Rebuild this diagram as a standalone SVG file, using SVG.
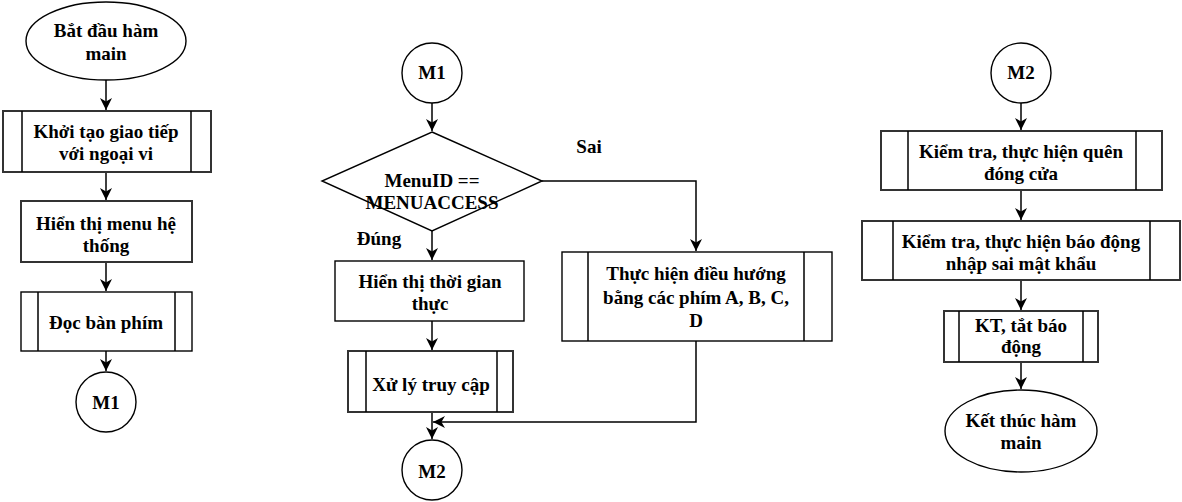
<svg xmlns="http://www.w3.org/2000/svg" width="1182" height="502" viewBox="0 0 1182 502">
<style>
.s{fill:#fff;stroke:#000;stroke-width:1.4}
.t{stroke:#333;stroke-width:2}
.e{fill:none;stroke:#000;stroke-width:1.5}
text{font-family:"Liberation Serif","Times New Roman",serif;font-weight:bold;font-size:19px;text-anchor:middle;fill:#000}
</style>
<defs>
<marker id="a" markerUnits="userSpaceOnUse" markerWidth="12" markerHeight="12" refX="10" refY="5" orient="auto" viewBox="0 0 10 10">
<path d="M0,0 L10,5 L0,10 L3,5 z" fill="#000"/>
</marker>
</defs>
<rect width="1182" height="502" fill="#fff"/>
<g id="connectors">
<path class="e" d="M106,80 V110" marker-end="url(#a)"/>
<path class="e" d="M106,172 V200" marker-end="url(#a)"/>
<path class="e" d="M106,262 V291" marker-end="url(#a)"/>
<path class="e" d="M106,351 V371" marker-end="url(#a)"/>
<path class="e" d="M432,103 V131" marker-end="url(#a)"/>
<path class="e" d="M432,231 V260" marker-end="url(#a)"/>
<path class="e" d="M542,181 H696 V251" marker-end="url(#a)"/>
<path class="e" d="M432,321 V350" marker-end="url(#a)"/>
<path class="e" d="M432,412 V439" marker-end="url(#a)"/>
<path class="e" d="M696,341 V422 H433" marker-end="url(#a)"/>
<path class="e" d="M1021,103 V130" marker-end="url(#a)"/>
<path class="e" d="M1021,190 V220" marker-end="url(#a)"/>
<path class="e" d="M1021,280 V310" marker-end="url(#a)"/>
<path class="e" d="M1021,362 V389" marker-end="url(#a)"/>
<text x="379" y="245">Đúng</text>
<text x="589" y="153">Sai</text>
</g>
<g id="start">
<ellipse class="s" cx="106" cy="41" rx="80" ry="39"/>
<text x="106" y="37">Bắt đầu hàm</text>
<text x="106" y="60">main</text>
</g>
<g id="init">
<rect class="s t" x="3" y="111" width="208" height="61"/>
<path class="e t" d="M22,111 V172 M191,111 V172"/>
<text x="106" y="138">Khởi tạo giao tiếp</text>
<text x="106" y="160">với ngoại vi</text>
</g>
<g id="menu">
<rect class="s t" x="21" y="201" width="171" height="61"/>
<text x="106" y="230">Hiển thị menu hệ</text>
<text x="106" y="252">thống</text>
</g>
<g id="readkey">
<rect class="s" x="21" y="292" width="171" height="59"/>
<path class="e" d="M38,292 V351 M175,292 V351"/>
<text x="106" y="329">Đọc bàn phím</text>
</g>
<g id="m1a">
<circle class="s" cx="106" cy="402" r="30"/>
<text x="106" y="409">M1</text>
</g>
<g id="m1b">
<circle class="s" cx="432" cy="73" r="30"/>
<text x="432" y="79">M1</text>
</g>
<g id="decision">
<path class="s" d="M432,132 L542,181 L432,231 L322,181 Z"/>
<text x="432" y="187">MenuID ==</text>
<text x="432" y="209">MENUACCESS</text>
</g>
<g id="realtime">
<rect class="s" x="335" y="261" width="189" height="60"/>
<text x="430" y="288">Hiển thị thời gian</text>
<text x="430" y="310">thực</text>
</g>
<g id="access">
<rect class="s t" x="348" y="351" width="165" height="61"/>
<path class="e t" d="M366,351 V412 M497,351 V412"/>
<text x="431" y="391">Xử lý truy cập</text>
</g>
<g id="navigate">
<rect class="s" x="562" y="252" width="270" height="89"/>
<path class="e" d="M588,252 V341 M804,252 V341"/>
<text x="696" y="280">Thực hiện điều hướng</text>
<text x="696" y="304">bằng các phím A, B, C,</text>
<text x="696" y="327">D</text>
</g>
<g id="m2a">
<circle class="s" cx="432" cy="470" r="30"/>
<text x="432" y="478">M2</text>
</g>
<g id="m2b">
<circle class="s" cx="1021" cy="73" r="30"/>
<text x="1021" y="79">M2</text>
</g>
<g id="door">
<rect class="s t" x="881" y="131" width="281" height="59"/>
<path class="e t" d="M908,131 V190 M1136,131 V190"/>
<text x="1021" y="158">Kiểm tra, thực hiện quên</text>
<text x="1021" y="180">đóng cửa</text>
</g>
<g id="wrongpass">
<rect class="s t" x="862" y="221" width="318" height="59"/>
<path class="e t" d="M893,221 V280 M1150,221 V280"/>
<text x="1021" y="248">Kiểm tra, thực hiện báo động</text>
<text x="1021" y="270">nhập sai mật khẩu</text>
</g>
<g id="alarmoff">
<rect class="s t" x="944" y="311" width="154" height="51"/>
<path class="e t" d="M959,311 V362 M1083,311 V362"/>
<text x="1021" y="332">KT, tắt báo</text>
<text x="1021" y="353">động</text>
</g>
<g id="end">
<ellipse class="s" cx="1021" cy="431" rx="76" ry="41"/>
<text x="1021" y="427">Kết thúc hàm</text>
<text x="1021" y="449">main</text>
</g>
</svg>
